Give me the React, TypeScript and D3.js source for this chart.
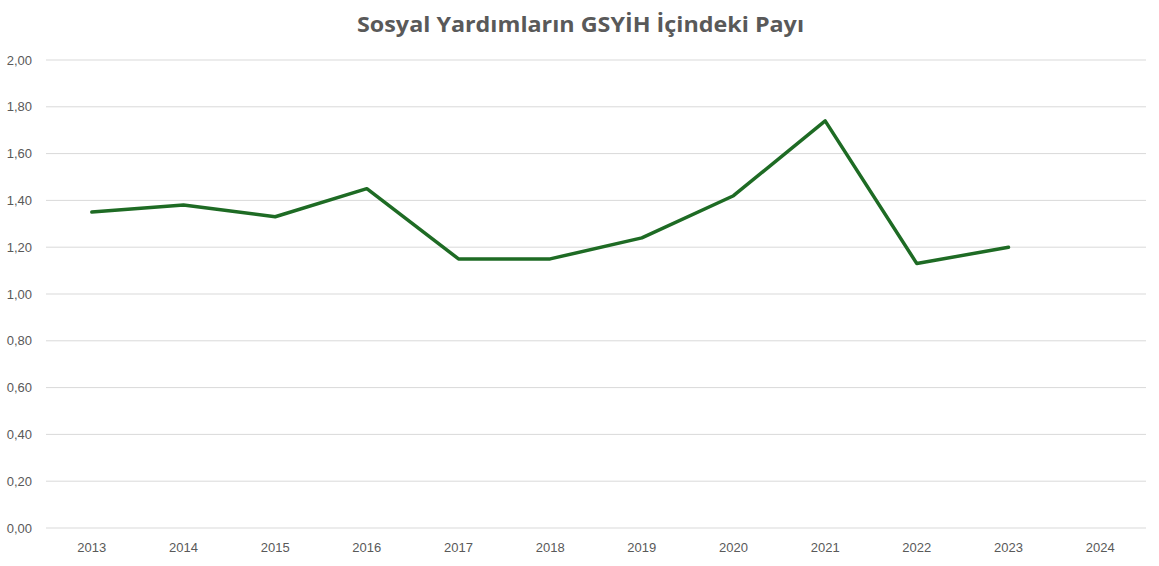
import React from "react";
import * as d3 from "d3";

const years = ["2013","2014","2015","2016","2017","2018","2019","2020","2021","2022","2023","2024"];
const values: (number | null)[] = [1.35, 1.38, 1.33, 1.45, 1.15, 1.15, 1.24, 1.42, 1.74, 1.13, 1.20, null];
const yTicks = [0, 0.2, 0.4, 0.6, 0.8, 1.0, 1.2, 1.4, 1.6, 1.8, 2.0];
const title = "Sosyal Yardımların GSYİH İçindeki Payı";

export default function App() {
  const W = 1159, H = 566;
  const left = 46, right = 1146, top = 60, bottom = 528;
  const x = d3.scaleBand<string>().domain(years).range([left, right]);
  const y = d3.scaleLinear().domain([0, 2]).range([bottom, top]);
  const cx = (d: string) => (x(d) as number) + x.bandwidth() / 2;
  const pts = years.map((yr, i) => ({ yr, v: values[i] })).filter(p => p.v != null) as { yr: string; v: number }[];
  const line = d3.line<{ yr: string; v: number }>().x(p => cx(p.yr)).y(p => y(p.v));
  const fmt = (v: number) => v.toFixed(2).replace(".", ",");
  return (
    <svg width={W} height={H} style={{ position: "absolute", left: 0, top: 0 }}>
      <rect width={W} height={H} fill="#fff" />
      <text x={W / 2 + 1} y={32} textAnchor="middle" fontFamily="'Open Sans', sans-serif" fontWeight={700} fontSize={22} fill="#595959" textLength={447} lengthAdjust="spacingAndGlyphs">{title}</text>
      {yTicks.map(t => (
        <g key={t}>
          <line x1={left} x2={right} y1={y(t)} y2={y(t)} stroke="#d9d9d9" strokeWidth={1} />
          <text x={32} y={y(t) + 4.5} textAnchor="end" fontFamily="'Liberation Sans', Arial, sans-serif" fontSize={13} fill="#595959">{fmt(t)}</text>
        </g>
      ))}
      {years.map(yr => (
        <text key={yr} x={cx(yr)} y={552} textAnchor="middle" fontFamily="'Liberation Sans', Arial, sans-serif" fontSize={13} fill="#595959">{yr}</text>
      ))}
      <path d={line(pts) || ""} fill="none" stroke="#1e6b24" strokeWidth={3.5} strokeLinejoin="round" strokeLinecap="round" />
    </svg>
  );
}
